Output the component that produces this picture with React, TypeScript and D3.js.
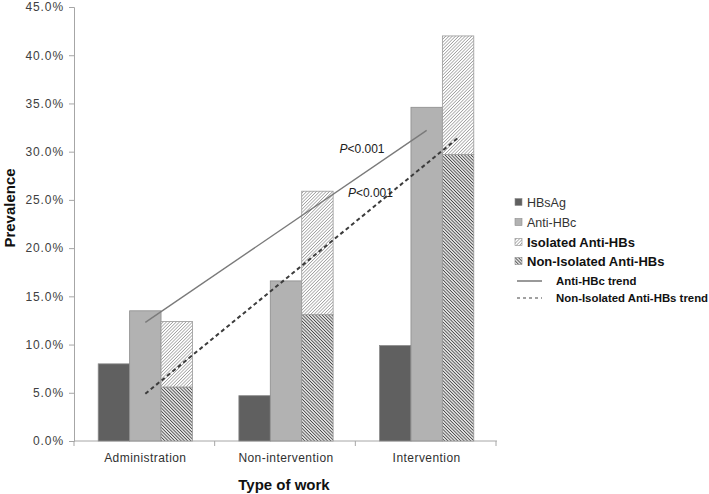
import { useEffect, useRef } from 'react';
import * as d3 from 'd3';

const categories = ['Administration', 'Non-intervention', 'Intervention'];
const hbsag = [8.0, 4.7, 9.9];
const antiHBc = [13.5, 16.6, 34.6];
const nonIsolated = [5.6, 13.1, 29.7];
const isolated = [6.8, 12.8, 12.3];
const yTicks = [0, 5, 10, 15, 20, 25, 30, 35, 40, 45];

// trend lines: [category position (0 = first category centre), prevalence %]
const antiHBcTrend: [number, number][] = [[0, 12.3], [2, 32.2]];
const nonIsolatedTrend: [number, number][] = [[0, 4.9], [2.22, 31.4]];
// p-value labels: [category position, prevalence %]
const pLabels: [number, number][] = [[1.38, 29.9], [1.44, 25.3]];

const legendItems = [
  { label: 'HBsAg', kind: 'hbsag', bold: false },
  { label: 'Anti-HBc', kind: 'antihbc', bold: false },
  { label: 'Isolated Anti-HBs', kind: 'iso', bold: true },
  { label: 'Non-Isolated Anti-HBs', kind: 'noniso', bold: true },
  { label: 'Anti-HBc  trend', kind: 'solid', bold: true },
  { label: 'Non-Isolated Anti-HBs trend', kind: 'dashed', bold: true },
];

const FONT = '"Liberation Sans", Arial, sans-serif';

const App = () => {
  const ref = useRef<SVGSVGElement>(null);

  useEffect(() => {
    if (!ref.current) return;
    const svg = d3.select(ref.current);
    svg.selectAll('*').remove();

    const left = 75;
    const right = 497;
    const top = 7;
    const bottom = 441;

    // hatch patterns
    const defs = svg.append('defs');
    const isoPat = defs.append('pattern')
      .attr('id', 'isoHatch')
      .attr('patternUnits', 'userSpaceOnUse')
      .attr('width', 2.3)
      .attr('height', 2.3)
      .attr('patternTransform', 'rotate(45)');
    isoPat.append('rect').attr('width', 2.3).attr('height', 2.3).attr('fill', '#ffffff');
    isoPat.append('line')
      .attr('x1', 0).attr('y1', 0).attr('x2', 0).attr('y2', 2.3)
      .attr('stroke', '#7a7a7a').attr('stroke-width', 1.1);

    const nonPat = defs.append('pattern')
      .attr('id', 'nonHatch')
      .attr('patternUnits', 'userSpaceOnUse')
      .attr('width', 2.3)
      .attr('height', 2.3)
      .attr('patternTransform', 'rotate(-45)');
    nonPat.append('rect').attr('width', 2.3).attr('height', 2.3).attr('fill', '#e0e0e0');
    nonPat.append('line')
      .attr('x1', 0).attr('y1', 0).attr('x2', 0).attr('y2', 2.3)
      .attr('stroke', '#2a2a2a').attr('stroke-width', 1.3);

    const x = d3.scaleBand()
      .domain(categories)
      .range([left, right])
      .paddingInner(0.33)
      .paddingOuter(0.165);
    const sub = d3.scaleBand()
      .domain(['hbsag', 'antihbc', 'stack'])
      .range([0, x.bandwidth()])
      .padding(0);
    const y = d3.scaleLinear().domain([0, 45]).range([bottom, top]);

    // category position -> pixel x
    const catX = (c: number) => (x(categories[0]) as number) + x.bandwidth() / 2 + c * x.step();

    // y axis
    const yAxis = svg.append('g')
      .attr('transform', `translate(${left - 1},0)`)
      .call(d3.axisLeft(y).tickValues(yTicks).tickSize(5).tickPadding(5).tickFormat(d => `${(+d).toFixed(1)}%`));
    yAxis.select('.domain').attr('stroke', '#a6a6a6');
    yAxis.selectAll('.tick line').attr('stroke', '#a6a6a6');
    yAxis.selectAll('text')
      .style('font-family', FONT)
      .style('font-size', '12px')
      .style('letter-spacing', '0.9px')
      .attr('fill', '#404040');

    // x axis
    const xAxis = svg.append('g')
      .attr('transform', `translate(0,${bottom})`)
      .call(d3.axisBottom(x).tickSize(0).tickPadding(12));
    xAxis.select('.domain').attr('stroke', '#a6a6a6').attr('d', `M${left - 1},0H${right}`);
    xAxis.selectAll('text')
      .style('font-family', FONT)
      .style('font-size', '12px')
      .style('letter-spacing', '0.45px')
      .attr('fill', '#303030');
    // category separators
    [0, 1, 2, 3].forEach(i => {
      const xv = left - 1 + i * x.step();
      xAxis.append('line')
        .attr('x1', xv).attr('x2', xv)
        .attr('y1', 0).attr('y2', 5)
        .attr('stroke', '#a6a6a6');
    });

    // bars
    const barG = svg.append('g');
    categories.forEach((cat, i) => {
      const x0 = x(cat) as number;
      const bw = sub.bandwidth();
      barG.append('rect')
        .attr('x', x0 + (sub('hbsag') as number))
        .attr('y', y(hbsag[i]))
        .attr('width', bw)
        .attr('height', y(0) - y(hbsag[i]))
        .attr('fill', '#606060')
        .attr('stroke', '#8c8c8c')
        .attr('stroke-width', 0.8);
      barG.append('rect')
        .attr('x', x0 + (sub('antihbc') as number))
        .attr('y', y(antiHBc[i]))
        .attr('width', bw)
        .attr('height', y(0) - y(antiHBc[i]))
        .attr('fill', '#b2b2b2')
        .attr('stroke', '#8c8c8c')
        .attr('stroke-width', 0.8);
      barG.append('rect')
        .attr('x', x0 + (sub('stack') as number))
        .attr('y', y(nonIsolated[i]))
        .attr('width', bw)
        .attr('height', y(0) - y(nonIsolated[i]))
        .attr('fill', 'url(#nonHatch)')
        .attr('stroke', '#9a9a9a')
        .attr('stroke-width', 0.8);
      barG.append('rect')
        .attr('x', x0 + (sub('stack') as number))
        .attr('y', y(nonIsolated[i] + isolated[i]))
        .attr('width', bw)
        .attr('height', y(nonIsolated[i]) - y(nonIsolated[i] + isolated[i]))
        .attr('fill', 'url(#isoHatch)')
        .attr('stroke', '#9a9a9a')
        .attr('stroke-width', 0.8);
    });

    // trend lines
    const line = d3.line<[number, number]>()
      .x(d => catX(d[0]))
      .y(d => y(d[1]));
    svg.append('path')
      .attr('d', line(antiHBcTrend))
      .attr('fill', 'none')
      .attr('stroke', '#7a7a7a')
      .attr('stroke-width', 1.4);
    svg.append('path')
      .attr('d', line(nonIsolatedTrend))
      .attr('fill', 'none')
      .attr('stroke', '#3c3c3c')
      .attr('stroke-width', 2)
      .attr('stroke-dasharray', '4,3');

    // p-value labels
    pLabels.forEach(p => {
      const t = svg.append('text')
        .attr('x', catX(p[0]))
        .attr('y', y(p[1]))
        .style('font-family', FONT)
        .style('font-size', '12px')
        .attr('fill', '#202020');
      t.append('tspan').style('font-style', 'italic').text('P');
      t.append('tspan').text('<0.001');
    });

    // axis titles
    svg.append('text')
      .attr('transform', `translate(15,${(top + bottom) / 2 - 16}) rotate(-90)`)
      .attr('text-anchor', 'middle')
      .style('font-family', FONT)
      .style('font-size', '15px')
      .style('font-weight', 'bold')
      .attr('fill', '#111')
      .text('Prevalence');
    svg.append('text')
      .attr('x', (left + right) / 2 - 2)
      .attr('y', 490)
      .attr('text-anchor', 'middle')
      .style('font-family', FONT)
      .style('font-size', '15px')
      .style('font-weight', 'bold')
      .attr('fill', '#111')
      .text('Type of work');

    // legend
    const legendY = [202, 222, 242, 261, 281, 298];
    const lg = svg.append('g');
    legendItems.forEach((item, i) => {
      const cy = legendY[i];
      const isLine = item.kind === 'solid' || item.kind === 'dashed';
      if (isLine) {
        lg.append('line')
          .attr('x1', 517).attr('x2', 542)
          .attr('y1', cy).attr('y2', cy)
          .attr('stroke', item.kind === 'solid' ? '#555' : '#444')
          .attr('stroke-width', 1.2)
          .attr('stroke-dasharray', item.kind === 'dashed' ? '3,3' : null);
      } else {
        const fill = item.kind === 'hbsag' ? '#606060'
          : item.kind === 'antihbc' ? '#b2b2b2'
          : item.kind === 'iso' ? 'url(#isoHatch)' : 'url(#nonHatch)';
        lg.append('rect')
          .attr('x', 515).attr('y', cy - 3.5)
          .attr('width', 7).attr('height', 7)
          .attr('fill', fill)
          .attr('stroke', '#8c8c8c')
          .attr('stroke-width', 0.6);
      }
      lg.append('text')
        .attr('x', isLine ? 556 : 527)
        .attr('y', cy)
        .attr('dy', '0.36em')
        .style('font-family', FONT)
        .style('font-size', isLine ? '11.4px' : item.bold ? '13px' : '12.5px')
        .style('font-weight', item.bold ? 'bold' : 'normal')
        .attr('fill', item.bold ? '#111' : '#333')
        .text(item.label);
    });
  }, []);

  return (
    <svg
      ref={ref}
      width={709}
      height={494}
      style={{ position: 'absolute', left: 0, top: 0, background: '#ffffff' }}
    />
  );
};

export default App;
